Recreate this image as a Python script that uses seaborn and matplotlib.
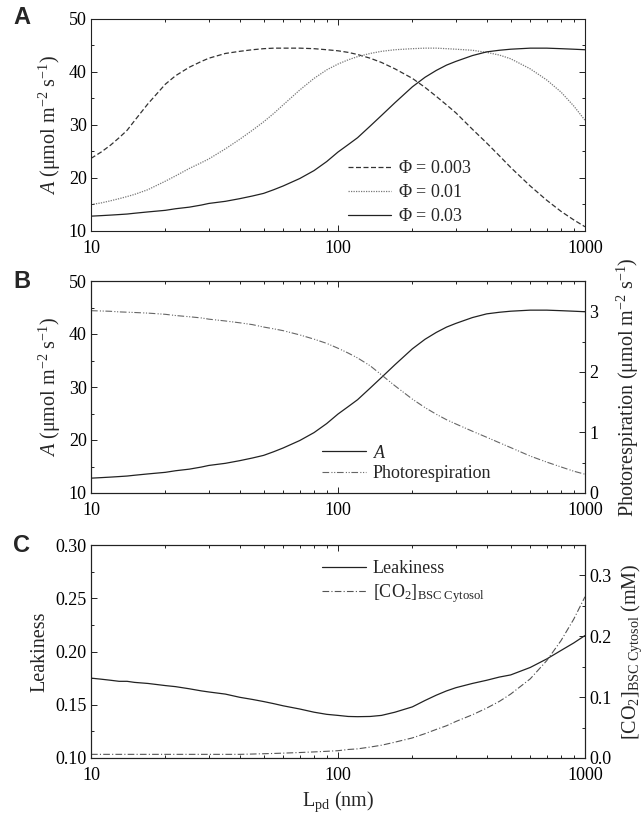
import pandas as pd
import seaborn as sns
import matplotlib.pyplot as plt
from matplotlib.ticker import FuncFormatter, MultipleLocator, NullFormatter

# L_pd (nm) sample points
l_pd = [10, 11, 12, 13, 14, 15, 17, 20, 22, 25, 28, 30, 35, 40, 45, 50, 55, 60,
        70, 80, 90, 100, 110, 120, 135, 150, 170, 200, 225, 250, 275, 300, 350,
        400, 450, 500, 600, 700, 800, 900, 1000]

# panel A: assimilation for three values of Phi
a_phi_0003 = [23.7, 24.9, 26.2, 27.6, 29.0, 30.8, 34.0, 37.7, 39.3, 40.9, 42.0,
              42.6, 43.5, 43.9, 44.2, 44.4, 44.5, 44.5, 44.5, 44.4, 44.2, 44.0,
              43.7, 43.3, 42.6, 41.8, 40.6, 38.8, 37.1, 35.4, 33.8, 32.3, 29.2,
              26.6, 24.2, 22.0, 18.5, 15.8, 13.7, 12.1, 10.8]
a_phi_001 = [15.0, 15.3, 15.7, 16.1, 16.5, 16.9, 17.8, 19.4, 20.4, 21.8, 22.9,
             23.6, 25.5, 27.3, 29.0, 30.6, 32.2, 33.8, 36.6, 38.8, 40.4, 41.5,
             42.3, 42.9, 43.5, 43.9, 44.2, 44.4, 44.5, 44.5, 44.4, 44.3, 44.1,
             43.7, 43.2, 42.5, 40.6, 38.5, 36.2, 33.6, 30.9]
a_phi_003 = [12.8, 12.9, 13.0, 13.1, 13.2, 13.35, 13.6, 13.9, 14.2, 14.5, 14.9,
             15.2, 15.6, 16.1, 16.6, 17.1, 17.8, 18.5, 19.9, 21.4, 23.1, 24.9,
             26.3, 27.6, 29.8, 31.8, 34.2, 37.2, 39.0, 40.3, 41.3, 42.0, 43.1,
             43.8, 44.1, 44.3, 44.5, 44.5, 44.4, 44.3, 44.2]

# panel B
photoresp = [3.01, 3.005, 3.0, 2.99, 2.985, 2.98, 2.97, 2.95, 2.93, 2.91, 2.89,
             2.87, 2.84, 2.81, 2.78, 2.74, 2.71, 2.68, 2.61, 2.54, 2.47, 2.39,
             2.31, 2.23, 2.10, 1.95, 1.77, 1.55, 1.41, 1.30, 1.21, 1.14, 1.02,
             0.92, 0.83, 0.75, 0.61, 0.51, 0.43, 0.36, 0.31]

# panel C
leakiness = [0.175, 0.174, 0.173, 0.172, 0.172, 0.171, 0.170, 0.168, 0.167, 0.165,
             0.163, 0.162, 0.160, 0.157, 0.155, 0.153, 0.151, 0.149, 0.146, 0.143,
             0.141, 0.140, 0.139, 0.1388, 0.139, 0.140, 0.143, 0.148, 0.154, 0.159,
             0.163, 0.166, 0.170, 0.173, 0.176, 0.178, 0.185, 0.193, 0.201, 0.208,
             0.215]
co2_bsc = [0.006, 0.006, 0.006, 0.006, 0.006, 0.006, 0.006, 0.006, 0.006, 0.006,
           0.006, 0.006, 0.006, 0.006, 0.0065, 0.007, 0.0075, 0.008, 0.009, 0.010,
           0.011, 0.012, 0.014, 0.015, 0.018, 0.021, 0.026, 0.033, 0.040, 0.047,
           0.053, 0.060, 0.071, 0.082, 0.093, 0.105, 0.130, 0.160, 0.193, 0.228,
           0.265]

df = pd.DataFrame({'L': l_pd, 'p0003': a_phi_0003, 'p001': a_phi_001,
                   'p003': a_phi_003, 'pr': photoresp, 'leak': leakiness,
                   'co2': co2_bsc})

sns.set_theme(style='ticks')
plt.rcParams['font.family'] = ['Liberation Serif', 'DejaVu Serif']
plt.rcParams['mathtext.fontset'] = 'custom'
plt.rcParams['mathtext.rm'] = 'Liberation Serif'
plt.rcParams['mathtext.it'] = 'Liberation Serif:italic'
plt.rcParams['axes.linewidth'] = 0.8
plt.rcParams['axes.edgecolor'] = '#222222'

FS = 13     # ticks and legends
LFS = 14.5  # axis labels
DASH = (0, (4, 2))
DOT = (0, (1, 1))
DASHDOT = (0, (6, 2, 1, 2))
DASHDOTDOT = (0, (6, 2, 1, 1.5, 1, 1.5))

fig = plt.figure(figsize=(6.44, 8.15), dpi=100)
L, W = 91 / 644, 494 / 644
axA = fig.add_axes([L, 1 - 231 / 815, W, 212 / 815])
axB = fig.add_axes([L, 1 - 493 / 815, W, 212 / 815])
axC = fig.add_axes([L, 1 - 758 / 815, W, 213 / 815])

# A
sns.lineplot(data=df, x='L', y='p0003', ax=axA, color='#333333', lw=0.9,
             linestyle=DASH, label=r'$\Phi$ = 0.003')
sns.lineplot(data=df, x='L', y='p001', ax=axA, color='#777777', lw=0.9,
             linestyle=DOT, label=r'$\Phi$ = 0.01')
sns.lineplot(data=df, x='L', y='p003', ax=axA, color='#222222', lw=0.9,
             label=r'$\Phi$ = 0.03')
axA.set_ylim(10, 50)
axA.set_ylabel(r'$A$ (μmol m$^{-2}$ s$^{-1}$)', fontsize=LFS)
axA.legend(loc='upper left', bbox_to_anchor=(0.52, 0.335), frameon=False,
           fontsize=FS, handlelength=2.4, handletextpad=0.4, labelspacing=0.4,
           borderpad=0, borderaxespad=0)

# B
axB2 = axB.twinx()
axB2.set_position(axB.get_position())
sns.lineplot(data=df, x='L', y='p003', ax=axB, color='#222222', lw=0.9,
             label=r'$A$', legend=False)
sns.lineplot(data=df, x='L', y='pr', ax=axB2, color='#666666', lw=0.8,
             linestyle=DASHDOTDOT, label='Photorespiration', legend=False)
axB.set_ylim(10, 50)
axB2.set_ylim(0, 3.5)
axB.set_ylabel(r'$A$ (μmol m$^{-2}$ s$^{-1}$)', fontsize=LFS)
axB2.set_ylabel(r'Photorespiration (μmol m$^{-2}$ s$^{-1}$)', fontsize=LFS,
                labelpad=12)
hB = axB.get_lines() + axB2.get_lines()
axB.legend(hB, [h.get_label() for h in hB], loc='upper left',
           bbox_to_anchor=(0.468, 0.228), frameon=False, fontsize=FS,
           handlelength=2.4, handletextpad=0.4, labelspacing=0.2,
           borderpad=0, borderaxespad=0)

# C
axC2 = axC.twinx()
axC2.set_position(axC.get_position())
sns.lineplot(data=df, x='L', y='leak', ax=axC, color='#222222', lw=0.9,
             label='Leakiness', legend=False)
sns.lineplot(data=df, x='L', y='co2', ax=axC2, color='#555555', lw=0.8,
             linestyle=DASHDOT, label=r'[CO$_2$]$_{\rm BSC\ Cytosol}$', legend=False)
axC.set_ylim(0.10, 0.30)
axC2.set_ylim(0, 0.35)
axC.set_ylabel('Leakiness', fontsize=LFS)
axC2.set_ylabel(r'[CO$_2$]$_{\rm BSC\ Cytosol}$ (mM)', fontsize=LFS, labelpad=6)
axC.set_xlabel(r'L$_{\rm pd}$ (nm)', fontsize=LFS)
hC = axC.get_lines() + axC2.get_lines()
axC.legend(hC, [h.get_label() for h in hC], loc='upper left',
           bbox_to_anchor=(0.468, 0.93), frameon=False, fontsize=FS,
           handlelength=2.4, handletextpad=0.4, labelspacing=0.3,
           borderpad=0, borderaxespad=0)

fmt_x = FuncFormatter(lambda v, _: f'{v:g}')
for ax in (axA, axB, axC, axB2, axC2):
    ax.set_xscale('log')
    ax.set_xlim(10, 1000)
    ax.xaxis.set_major_formatter(fmt_x)
    ax.xaxis.set_minor_formatter(NullFormatter())
    ax.tick_params(which='both', direction='in', labelsize=FS, colors='#222222',
                   labelcolor='black', width=0.7)
    ax.tick_params(which='major', length=4.5, pad=3)
    ax.tick_params(which='minor', length=2.5)

for ax in (axA, axB, axC):
    ax.tick_params(which='both', top=True)
    ax.tick_params(axis='x', pad=6.5)
    if ax is not axC:
        ax.set_xlabel('')
axA.tick_params(which='both', right=True)

for ax in (axA, axB):
    ax.yaxis.set_major_locator(MultipleLocator(10))
    ax.yaxis.set_minor_locator(MultipleLocator(5))
axB2.yaxis.set_major_locator(MultipleLocator(1))
axB2.yaxis.set_minor_locator(MultipleLocator(0.5))
axB2.yaxis.set_major_formatter(FuncFormatter(lambda v, _: f'{v:g}'))
axC.yaxis.set_major_locator(MultipleLocator(0.05))
axC.yaxis.set_minor_locator(MultipleLocator(0.025))
axC.yaxis.set_major_formatter(FuncFormatter(lambda v, _: f'{v:.2f}'))
axC2.yaxis.set_major_locator(MultipleLocator(0.1))
axC2.yaxis.set_minor_locator(MultipleLocator(0.05))
axC2.yaxis.set_major_formatter(FuncFormatter(lambda v, _: f'{v:.1f}'))

for letter, y in (('A', 18), ('B', 281), ('C', 546)):
    fig.text(22 / 644, 1 - y / 815, letter, fontsize=17, fontweight='bold',
             family=['Liberation Sans', 'DejaVu Sans'], ha='center', va='center')

fig.savefig('out.png', dpi=100)
